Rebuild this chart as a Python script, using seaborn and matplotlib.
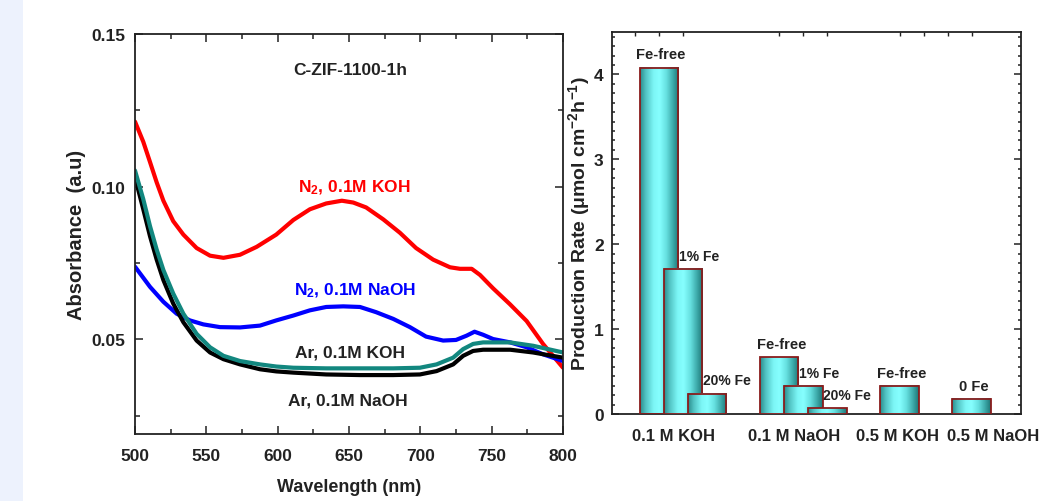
import numpy as np
import pandas as pd
import matplotlib
matplotlib.use("Agg")
import matplotlib.pyplot as plt
import seaborn as sns
from matplotlib.colors import LinearSegmentedColormap
from matplotlib.ticker import MultipleLocator, AutoMinorLocator, FixedLocator, FormatStrFormatter
from matplotlib.patches import Rectangle

# ---------------- data: UV-vis spectra (left panel) ----------------
n2_koh_wl = [500, 505.8, 510.5, 515.2, 519.9, 526.8, 533.9, 543.2, 552.6, 562, 573.6, 585.3,
             599, 611, 622.6, 634, 645, 653, 662, 674, 685.7, 697, 709, 720.8, 727.8, 736,
             741.8, 751, 762.8, 774.5, 786, 800]
n2_koh_abs = [0.1213, 0.1147, 0.1081, 0.1014, 0.0954, 0.0887, 0.0843, 0.0799, 0.0774, 0.0767,
              0.0777, 0.0803, 0.0843, 0.0891, 0.0926, 0.0945, 0.0954, 0.0948, 0.0932, 0.0893,
              0.0849, 0.0799, 0.0761, 0.0736, 0.0731, 0.0731, 0.0711, 0.0667, 0.0615, 0.0560,
              0.0485, 0.0407]

n2_naoh_wl = [500, 510.5, 519.9, 529.2, 538.5, 547.9, 559.6, 573.6, 587.6, 599, 611, 622.6,
              634, 646, 657.7, 669, 681, 692.7, 704, 716, 725, 732.4, 738, 744, 751, 763,
              774.5, 786, 800]
n2_naoh_abs = [0.0738, 0.0672, 0.0623, 0.0584, 0.0562, 0.0549, 0.0540, 0.0539, 0.0545, 0.0562,
               0.0578, 0.0595, 0.0606, 0.0608, 0.0606, 0.0589, 0.0567, 0.0540, 0.0509, 0.0496,
               0.0498, 0.0512, 0.0525, 0.0515, 0.0501, 0.0490, 0.0474, 0.0451, 0.0429]

ar_wl = [500, 505.8, 510.5, 515.2, 519.9, 526.8, 533.9, 543.2, 552.6, 562, 573.6, 587.6, 599,
         611, 634, 657.7, 681, 699.7, 711.4, 723, 730, 737, 744, 763, 779, 800]
ar_koh_abs = [0.1053, 0.0959, 0.0871, 0.0794, 0.0727, 0.0650, 0.0584, 0.0518, 0.0474, 0.0446,
              0.0429, 0.0418, 0.0411, 0.0407, 0.0405, 0.0405, 0.0405, 0.0407, 0.0418, 0.0440,
              0.0468, 0.0485, 0.0490, 0.0490, 0.0479, 0.0457]
ar_naoh_abs = [0.1031, 0.0926, 0.0838, 0.0761, 0.0694, 0.0617, 0.0556, 0.0496, 0.0457, 0.0435,
               0.0418, 0.0402, 0.0395, 0.0391, 0.0385, 0.0383, 0.0383, 0.0385, 0.0396, 0.0418,
               0.0446, 0.0462, 0.0466, 0.0466, 0.0457, 0.0440]

# ---------------- data: production rates (right panel) ----------------
categories = ["0.1 M KOH", "0.1 M NaOH", "0.5 M KOH", "0.5 M NaOH"]
bar_labels = [["Fe-free", "1% Fe", "20% Fe"],
              ["Fe-free", "1% Fe", "20% Fe"],
              ["Fe-free"],
              ["0 Fe"]]
bar_rates = [[4.08, 1.71, 0.24],
             [0.67, 0.33, 0.07],
             [0.33],
             [0.18]]

# ---------------- style ----------------
sns.set_theme(style="ticks")
plt.rcParams["font.family"] = ["Liberation Sans", "DejaVu Sans"]
plt.rcParams["font.weight"] = "bold"
plt.rcParams["axes.labelweight"] = "bold"
plt.rcParams["mathtext.fontset"] = "custom"
plt.rcParams["mathtext.rm"] = "Liberation Sans:bold"
plt.rcParams["mathtext.it"] = "Liberation Sans:bold:italic"
plt.rcParams["mathtext.bf"] = "Liberation Sans:bold"
plt.rcParams["mathtext.default"] = "rm"
plt.rcParams["axes.edgecolor"] = "#222222"
plt.rcParams["axes.linewidth"] = 1.3

W, H = 1047, 502
fig = plt.figure(figsize=(W / 100, H / 100), dpi=100)
fig.patch.set_facecolor("white")
fig.patches.append(Rectangle((0, 0), 23 / W, 1, transform=fig.transFigure,
                             facecolor="#edf2fd", edgecolor="none", zorder=-10))

ax1 = fig.add_axes([135 / W, 1 - 435 / H, 428 / W, 400 / H])
ax2 = fig.add_axes([612 / W, 1 - 415 / H, 409 / W, 382 / H])

# ---------------- left panel ----------------
spectra = [
    (n2_koh_wl, n2_koh_abs, "#ff0000"),
    (n2_naoh_wl, n2_naoh_abs, "#0000ff"),
    (ar_wl, ar_naoh_abs, "#000000"),
    (ar_wl, ar_koh_abs, "#12877f"),
]
for xs, ys, c in spectra:
    sns.lineplot(x=xs, y=ys, ax=ax1, color=c, lw=3.0, estimator=None, sort=False)

ax1.set_xlim(500, 800)
ax1.set_ylim(0.019, 0.15)
ax1.xaxis.set_major_locator(MultipleLocator(50))
ax1.xaxis.set_minor_locator(MultipleLocator(25))
ax1.yaxis.set_major_locator(MultipleLocator(0.05))
ax1.yaxis.set_minor_locator(MultipleLocator(0.025))
ax1.yaxis.set_major_formatter(FormatStrFormatter("%.2f"))
ax1.tick_params(which="both", direction="in", top=True, right=True, colors="#222222",
                labelsize=12.5, width=1.1)
ax1.tick_params(which="major", length=6, pad=7)
ax1.tick_params(axis="x", which="major", pad=10)
ax1.tick_params(which="minor", length=3.5)
ax1.set_xlabel("Wavelength (nm)", fontsize=13, labelpad=11, color="#222222")
ax1.set_ylabel("Absorbance  (a.u)", fontsize=14.5, labelpad=3.5, color="#222222")

txt_kw = dict(ha="center", va="center", fontweight="bold", fontsize=12.5)
ax1.text(650.7, 0.1384, "C-ZIF-1100-1h", color="#222222", **txt_kw)
ax1.text(654, 0.1000, "N$_{2}$, 0.1M KOH", color="#ff0000", **txt_kw)
ax1.text(654, 0.0662, "N$_{2}$, 0.1M NaOH", color="#0000ff", **txt_kw)
ax1.text(650.7, 0.0457, "Ar, 0.1M KOH", color="#222222", **txt_kw)
ax1.text(649, 0.0301, "Ar, 0.1M NaOH", color="#222222", **txt_kw)

# ---------------- right panel ----------------
group_base = [0.0, 1.0, 2.0, 2.6]
sub_step = 0.2
rows = []
for g, (labs, vals) in enumerate(zip(bar_labels, bar_rates)):
    for k, (lab, v) in enumerate(zip(labs, vals)):
        rows.append({"pos": round(group_base[g] + k * sub_step, 3), "rate": v,
                     "label": lab, "cond": categories[g]})
df = pd.DataFrame(rows)

sns.barplot(data=df, x="pos", y="rate", native_scale=True, width=1.6, errorbar=None,
            color="#40c0c0", ax=ax2)

cmap = LinearSegmentedColormap.from_list(
    "cyl", [(0.0, "#2a8c8c"), (0.15, "#52c4c4"), (0.35, "#7cf6f6"), (0.5, "#86ffff"),
            (0.68, "#66e0e0"), (0.86, "#3aa6a6"), (1.0, "#1d7474")])
grad = np.linspace(0, 1, 256).reshape(1, -1)
bars = list(ax2.patches)
for i, p in enumerate(bars):
    x0, w, h = p.get_x(), p.get_width(), p.get_height()
    p.set_facecolor("none")
    p.set_edgecolor("#8a1c1c")
    p.set_linewidth(1.3)
    p.set_zorder(3 + 2 * i)
    ax2.imshow(grad, extent=(x0, x0 + w, 0, h), aspect="auto", cmap=cmap,
               zorder=2 + 2 * i, interpolation="bilinear")

for i, r in df.iterrows():
    p = bars[i]
    cx = p.get_x() + p.get_width() / 2
    top = p.get_height()
    if "%" in r["label"]:
        ax2.annotate(r["label"], (cx, top), xytext=(-3, 9.5), textcoords="offset points",
                     ha="left", va="center", fontsize=10, fontweight="bold",
                     color="#222222", zorder=30)
    else:
        ax2.annotate(r["label"], (cx, top), xytext=(1.5, 9.5), textcoords="offset points",
                     ha="center", va="center", fontsize=10.5, fontweight="bold",
                     color="#222222", zorder=30)

ax2.set_xlim(-0.39, 3.01)
ax2.set_ylim(0, 4.5)
ax2.set_xticks([0.125, 1.12, 1.98, 2.78])
ax2.set_xticklabels(categories)
ax2.xaxis.set_minor_locator(FixedLocator([-0.2, 0, 0.2, 1.0, 1.2, 1.4, 2.0, 2.2, 2.4, 2.6]))
ax2.yaxis.set_major_locator(MultipleLocator(1))
ax2.yaxis.set_minor_locator(AutoMinorLocator(9))
ax2.tick_params(axis="x", which="major", length=0, pad=10, labelsize=12, colors="#222222")
ax2.tick_params(axis="x", which="minor", bottom=False, top=True, direction="in",
                length=3, width=1.0, colors="#222222")
ax2.tick_params(axis="y", which="both", direction="in", left=True, right=True,
                colors="#222222", labelsize=12.5, width=1.1)
ax2.tick_params(axis="y", which="major", length=5, pad=6)
ax2.tick_params(axis="y", which="minor", length=2.5)
ax2.set_xlabel("")
ax2.set_ylabel("Production Rate (μmol cm$^{-2}$h$^{-1}$)", fontsize=14, labelpad=1.5,
               color="#222222")

fig.savefig("out.png", dpi=100, facecolor="white")
